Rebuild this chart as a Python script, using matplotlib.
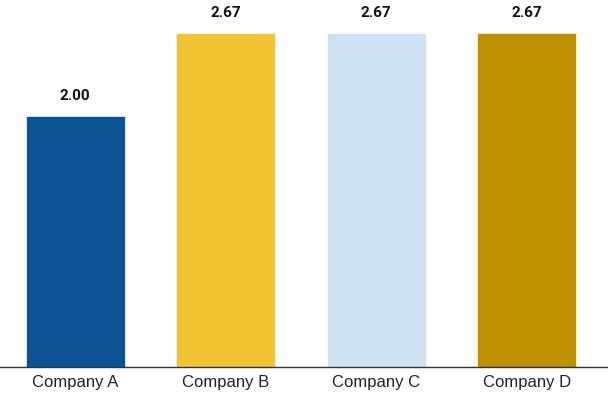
import matplotlib
matplotlib.use("Agg")
import matplotlib.pyplot as plt
import numpy as np

companies = ["Company A", "Company B", "Company C", "Company D"]
scores = [2.00, 2.67, 2.67, 2.67]
colours = ["#0b5394", "#f1c232", "#cfe2f3", "#bf9000"]

fig = plt.figure(figsize=(6.08, 3.98), dpi=100)
ax = fig.add_axes([0, 0.078, 1, 0.922])

x = np.arange(len(companies))
bars = ax.bar(x, scores, width=0.645, color=colours,
              edgecolor=colours, linewidth=1, joinstyle="round")

for b, v in zip(bars, scores):
    ax.annotate(f"{v:.2f}", (b.get_x() + b.get_width() / 2, v),
                xytext=(0, 10), textcoords="offset points",
                ha="center", va="bottom", fontsize=11,
                fontweight="bold", family="Roboto", color="#111111")

ax.set_xlim(-0.5, 3.54)
ax.set_ylim(0, 2.94)
ax.set_xticks(x)
ax.set_xticklabels(companies, fontsize=12, family="Liberation Sans", color="#222222")
ax.tick_params(axis="x", length=0, pad=6)
ax.set_yticks([])
for s in ("top", "left", "right"):
    ax.spines[s].set_visible(False)
ax.spines["bottom"].set_color("#333333")
ax.spines["bottom"].set_linewidth(1)

fig.savefig("out.png", dpi=100)
